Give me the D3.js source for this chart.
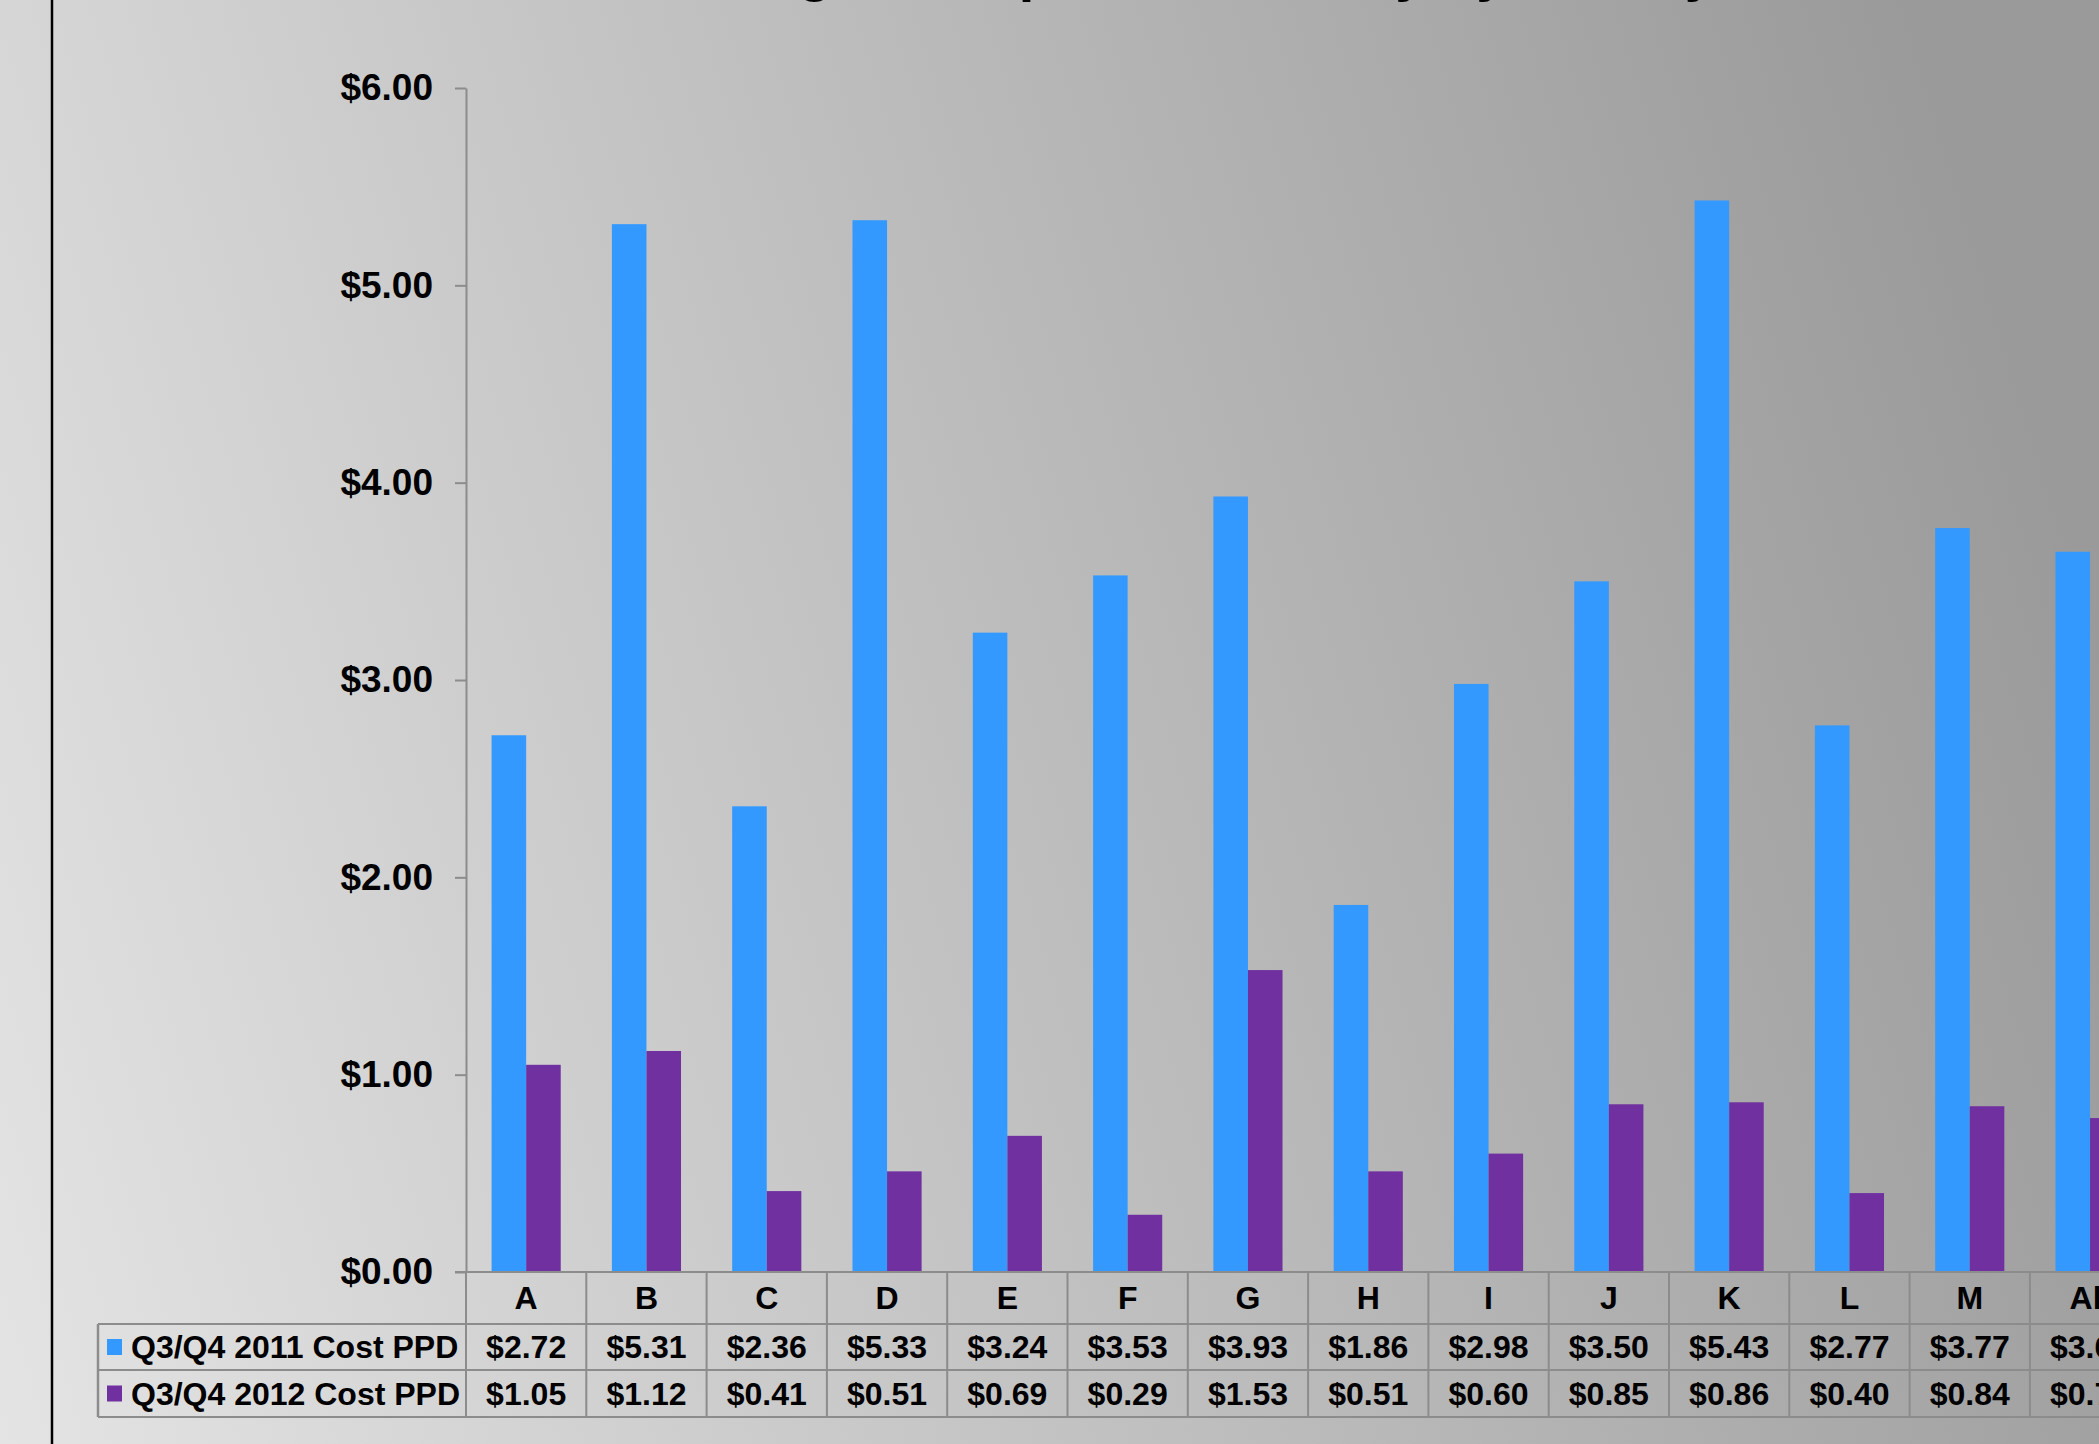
<!DOCTYPE html>
<html>
<head>
<meta charset="utf-8">
<script src="https://cdn.jsdelivr.net/npm/d3@7"></script>
<style>
    body { margin: 0; overflow: hidden; }
    svg { display: block; font-family: "Liberation Sans", Arial, sans-serif; font-weight: bold; }
</style>
</head>
<body>
<svg width="2099" height="1444"></svg>
<script>
// chart values
var categories = ['A', 'B', 'C', 'D', 'E', 'F', 'G', 'H', 'I', 'J', 'K', 'L', 'M', 'All'];
var cost2011 = [2.72, 5.31, 2.36, 5.33, 3.24, 3.53, 3.93, 1.86, 2.98, 3.50, 5.43, 2.77, 3.77, 3.65];
var cost2012 = [1.05, 1.12, 0.41, 0.51, 0.69, 0.29, 1.53, 0.51, 0.60, 0.85, 0.86, 0.40, 0.84, 0.78];
var seriesNames = ['Q3/Q4 2011 Cost PPD', 'Q3/Q4 2012 Cost PPD'];
var seriesColors = ['#3399ff', '#7030a0'];
var yTicks = [0, 1, 2, 3, 4, 5, 6];
var titleText = 'Average Cost per Patient Day by Facility';

var svg = d3.select('svg');
var svgWidth = +svg.attr('width');
var svgHeight = +svg.attr('height');

// layout
var plot = {l: 466, t: 88, b: 1272, band: 120.3};
var rowLines = [1324, 1370, 1417];
var tableLeft = 98;
var lineColor = '#8c8c8c';
var fmt = d3.format('$.2f');

// background gradient, light bottom-left to dark top-right
var defs = svg.append('defs');
var grad = defs.append('linearGradient')
    .attr('id', 'bg')
    .attr('gradientUnits', 'userSpaceOnUse')
    .attr('x1', 0).attr('y1', svgHeight)
    .attr('x2', 2150).attr('y2', svgHeight - 650);
grad.append('stop').attr('offset', 0).attr('stop-color', '#e4e4e4');
grad.append('stop').attr('offset', 1).attr('stop-color', '#9a9a9a');

svg.append('rect')
    .attr('width', svgWidth)
    .attr('height', svgHeight)
    .attr('fill', 'url(#bg)');

// black slide edge on the left
svg.append('line')
    .attr('x1', 52).attr('x2', 52)
    .attr('y1', 0).attr('y2', svgHeight)
    .attr('stroke', '#000')
    .attr('stroke-width', 2.5);

// title, mostly above the visible area
svg.append('text')
    .attr('x', 1180)
    .attr('y', -10)
    .attr('text-anchor', 'middle')
    .attr('font-size', '56px')
    .attr('fill', '#000')
    .text(titleText);

var xScale = d3.scaleBand()
    .domain(categories)
    .range([plot.l, plot.l + plot.band * categories.length])
    .padding(0);

var seriesScale = d3.scaleBand()
    .domain([0, 1])
    .range([0, xScale.bandwidth()])
    .paddingInner(0)
    .paddingOuter(0.74);

var yScale = d3.scaleLinear()
    .domain([0, 6])
    .range([plot.b, plot.t]);

// bars
var seriesData = [cost2011, cost2012];
seriesData.forEach(function(values, s) {
    svg.append('g')
        .selectAll('rect')
        .data(values)
        .enter()
        .append('rect')
        .attr('x', function(d, i) { return xScale(categories[i]) + seriesScale(s); })
        .attr('y', function(d) { return yScale(d); })
        .attr('width', seriesScale.bandwidth())
        .attr('height', function(d) { return plot.b - yScale(d); })
        .attr('fill', seriesColors[s]);
});

// y axis
var yAxis = d3.axisLeft(yScale)
    .tickValues(yTicks)
    .tickFormat(fmt)
    .tickSizeInner(11)
    .tickSizeOuter(0)
    .tickPadding(22);

var yAxisG = svg.append('g')
    .attr('transform', 'translate(' + plot.l + ',0)')
    .call(yAxis);
yAxisG.select('.domain').attr('stroke', lineColor).attr('stroke-width', 2);
yAxisG.selectAll('.tick line').attr('stroke', lineColor).attr('stroke-width', 2);
yAxisG.selectAll('.tick text')
    .attr('font-size', '37px')
    .attr('font-family', '"Liberation Sans", Arial, sans-serif')
    .attr('font-weight', 'bold')
    .attr('fill', '#000');

// x axis line with a small tick to the left
svg.append('line')
    .attr('x1', plot.l - 11).attr('x2', svgWidth)
    .attr('y1', plot.b).attr('y2', plot.b)
    .attr('stroke', lineColor)
    .attr('stroke-width', 2);

// data table grid
var tableG = svg.append('g');
rowLines.forEach(function(y) {
    tableG.append('line')
        .attr('x1', tableLeft).attr('x2', svgWidth)
        .attr('y1', y).attr('y2', y)
        .attr('stroke', lineColor)
        .attr('stroke-width', 2);
});

var edges = categories.map(function(c) { return xScale(c); });
edges.push(xScale.range()[1]);
tableG.selectAll('.vline')
    .data(edges)
    .enter()
    .append('line')
    .attr('x1', function(d) { return d; })
    .attr('x2', function(d) { return d; })
    .attr('y1', plot.b)
    .attr('y2', rowLines[2])
    .attr('stroke', lineColor)
    .attr('stroke-width', 2);

tableG.append('line')
    .attr('x1', tableLeft).attr('x2', tableLeft)
    .attr('y1', rowLines[0]).attr('y2', rowLines[2])
    .attr('stroke', lineColor)
    .attr('stroke-width', 2.5);

// category labels
var xAxis = d3.axisBottom(xScale).tickSize(0).tickPadding(0);
var xAxisG = svg.append('g')
    .attr('transform', 'translate(0,' + ((plot.b + rowLines[0]) / 2) + ')')
    .call(xAxis);
xAxisG.select('.domain').remove();
xAxisG.selectAll('.tick text')
    .attr('dy', '0.35em')
    .attr('y', 0)
    .attr('font-size', '32px')
    .attr('font-family', '"Liberation Sans", Arial, sans-serif')
    .attr('font-weight', 'bold')
    .attr('fill', '#000');

// table rows: legend key, name and values
var rowCenters = [(rowLines[0] + rowLines[1]) / 2, (rowLines[1] + rowLines[2]) / 2];
seriesData.forEach(function(values, s) {
    var cy = rowCenters[s];
    tableG.append('rect')
        .attr('x', 107)
        .attr('y', cy - 8)
        .attr('width', 15)
        .attr('height', 16)
        .attr('fill', seriesColors[s]);
    tableG.append('text')
        .attr('x', 131)
        .attr('y', cy)
        .attr('dy', '0.35em')
        .attr('font-size', '32px')
        .attr('fill', '#000')
        .text(seriesNames[s]);
    tableG.selectAll('.val' + s)
        .data(values)
        .enter()
        .append('text')
        .attr('x', function(d, i) { return xScale(categories[i]) + xScale.bandwidth() / 2; })
        .attr('y', cy)
        .attr('dy', '0.35em')
        .attr('text-anchor', 'middle')
        .attr('font-size', '32px')
        .attr('fill', '#000')
        .text(function(d) { return fmt(d); });
});
</script>
</body>
</html>
